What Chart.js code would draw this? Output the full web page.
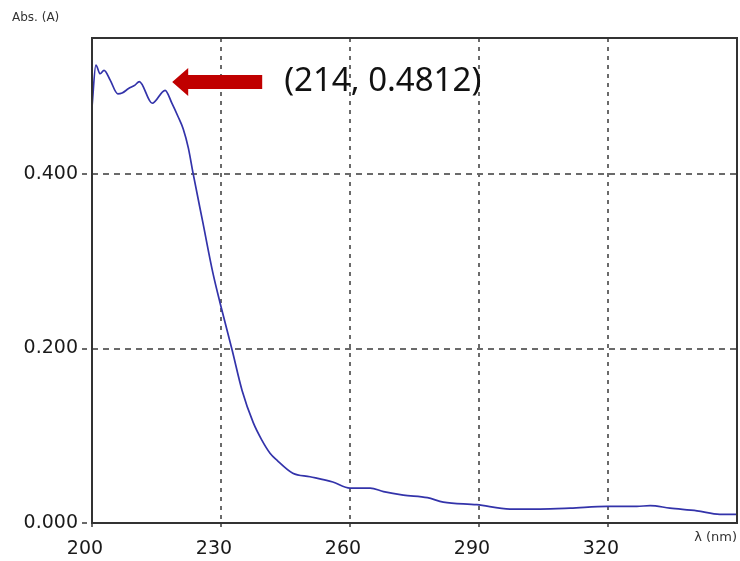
<!DOCTYPE html>
<html>
<head>
<meta charset="utf-8">
<script src="https://cdn.jsdelivr.net/npm/chart.js@4.4.1/dist/chart.umd.min.js"></script>
<style>
  html, body { margin: 0; padding: 0; background: #fff; }
  #wrap { width: 740px; height: 561px; }
</style>
</head>
<body>
<div id="wrap"><canvas id="spectrum" width="740" height="561"></canvas></div>
<script>
// absorption spectrum, wavelength (nm) vs absorbance
const wavelength = [
  200, 200.9, 201.9, 202.8, 204.2, 206, 207, 208.5, 210, 211, 214, 217, 218.6,
  220, 221.2, 222.4, 223.5, 225.8, 228.1, 229.8, 232.6, 234.9, 237.5, 239.5,
  241.4, 243, 246.7, 250.7, 256, 260, 264.7, 267.8, 272.4, 278, 281.7, 289.5,
  297.2, 304.2, 311.2, 319.8, 326.7, 329.8, 334.4, 340.7, 346, 350
];
const absorbance = [
  0.477, 0.525, 0.515, 0.519, 0.508, 0.492, 0.493, 0.498, 0.502, 0.506, 0.4812, 0.496, 0.481,
  0.466, 0.452, 0.430, 0.401, 0.344, 0.287, 0.252, 0.198, 0.152, 0.115, 0.095,
  0.080, 0.072, 0.057, 0.053, 0.047, 0.040, 0.040, 0.036, 0.032, 0.029, 0.024, 0.021,
  0.016, 0.016, 0.017, 0.019, 0.019, 0.020, 0.017, 0.014, 0.010, 0.010
];
const xTicks = [200, 230, 260, 290, 320];
const yTicks = [0, 0.2, 0.4];

// marked maximum
const peakNm = 214;
const peakAbs = 0.4812;

const points = wavelength.map((w, i) => ({ x: w, y: absorbance[i] }));

const gridColor = '#6a6a6a';
const frameColor = '#333';

// frame, axis captions and the red arrow pointing at the maximum
const decorations = {
  id: 'decorations',
  afterDatasetsDraw(chart) {
    const { ctx, chartArea: a, scales } = chart;
    ctx.save();
    ctx.strokeStyle = frameColor;
    ctx.lineWidth = 2;
    ctx.strokeRect(a.left, a.top, a.right - a.left, a.bottom - a.top);

    ctx.fillStyle = '#333';
    ctx.font = '12px "DejaVu Sans"';
    ctx.textBaseline = 'middle';
    ctx.textAlign = 'left';
    ctx.fillText('Abs. (A)', 12, 18);
    ctx.font = '13px "DejaVu Sans"';
    ctx.textAlign = 'right';
    ctx.fillText('λ (nm)', a.right, 538);

    // arrow
    const tipX = scales.x.getPixelForValue(peakNm) + 20;
    const tipY = a.top + 44;
    ctx.fillStyle = '#c00000';
    ctx.beginPath();
    ctx.moveTo(tipX, tipY);
    ctx.lineTo(tipX + 16, tipY - 14);
    ctx.lineTo(tipX + 16, tipY - 7);
    ctx.lineTo(tipX + 90, tipY - 7);
    ctx.lineTo(tipX + 90, tipY + 7);
    ctx.lineTo(tipX + 16, tipY + 7);
    ctx.lineTo(tipX + 16, tipY + 14);
    ctx.closePath();
    ctx.fill();

    ctx.fillStyle = '#111';
    ctx.font = '33px "Noto Sans"';
    ctx.textAlign = 'left';
    ctx.textBaseline = 'middle';
    ctx.fillText('(' + peakNm + ', ' + peakAbs + ')', tipX + 112, tipY);
    ctx.restore();
  }
};

new Chart(document.getElementById('spectrum'), {
  type: 'line',
  data: {
    datasets: [{
      data: points,
      borderColor: '#3333aa',
      borderWidth: 1.7,
      pointRadius: 0,
      fill: false,
      cubicInterpolationMode: 'monotone'
    }]
  },
  options: {
    responsive: false,
    animation: false,
    layout: { padding: { top: 38, right: 3, left: 0, bottom: 0 } },
    plugins: { legend: { display: false }, tooltip: { enabled: false } },
    scales: {
      x: {
        type: 'linear',
        min: 200,
        max: 350,
        afterBuildTicks: s => { s.ticks = xTicks.map(v => ({ value: v })); },
        afterFit: s => { s.height = 38; },
        ticks: {
          color: '#1a1a1a',
          font: { family: 'DejaVu Sans', size: 19 },
          padding: 8,
          labelOffset: -7,
          maxRotation: 0
        },
        grid: {
          color: gridColor,
          lineWidth: 2,
          tickLength: 7,
          tickColor: gridColor,
          tickBorderDash: [4, 4]
        },
        border: { display: false, dash: [4, 5] }
      },
      y: {
        min: 0,
        max: 0.556,
        afterBuildTicks: s => { s.ticks = yTicks.map(v => ({ value: v })); },
        afterFit: s => { s.width = 92; },
        ticks: {
          color: '#1a1a1a',
          font: { family: 'DejaVu Sans', size: 19 },
          padding: 4,
          callback: v => v.toFixed(3)
        },
        grid: {
          color: gridColor,
          lineWidth: 2,
          tickLength: 10,
          tickColor: gridColor,
          tickBorderDash: [5, 4]
        },
        border: { display: false, dash: [6, 5] }
      }
    }
  },
  plugins: [decorations]
});
</script>
</body>
</html>
